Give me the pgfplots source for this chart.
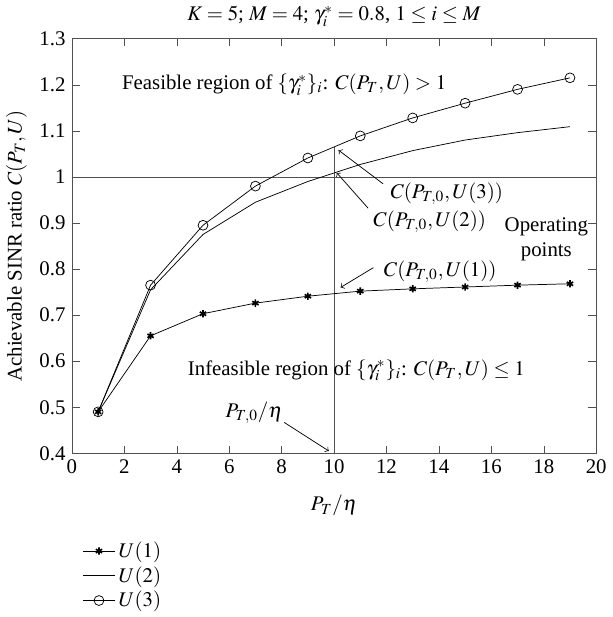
\documentclass[border=0pt]{standalone}
\usepackage{mathptmx}
\usepackage{fontspec}
\setmainfont{Liberation Serif}
\usepackage{pgfplots}
\pgfplotsset{compat=1.18}
\definecolor{axgray}{RGB}{80,80,80}
\begin{document}
\begin{tikzpicture}[font=\fontsize{11.4}{13.7}\selectfont]
\begin{axis}[
    scale only axis,
    width=287pt, height=227pt,
    xmin=0, xmax=20, ymin=0.4, ymax=1.3,
    xtick={0,2,...,20},
    ytick={0.4,0.5,...,1.3},
    tick align=inside,
    tick pos=both,
    axis line style={axgray},
    tick style={axgray},
    /pgf/number format/assume math mode=true,
    yticklabel style={/pgf/number format/fixed},
    title={$K=5$; $M=4$; $\gamma_i^{*}=0.8$, $1\le i\le M$},
    title style={yshift=-3pt},
    xlabel={$P_T/\eta$},
    xlabel style={yshift=-5pt},
    ylabel={Achievable SINR ratio $C(P_T,U)$},
    legend style={at={(0.01,-0.195)}, anchor=north west, draw=none, fill=none,
        legend cell align=left, row sep=-0.5pt, font=\fontsize{11.4}{13.7}\selectfont},
    ]
% horizontal reference line C=1 and vertical line at P_T/eta=10
\addplot[axgray, forget plot] coordinates {(0,1) (20,1)};
\addplot[axgray, forget plot] coordinates {(10,0.4) (10,1.065)};

\addplot[black, mark=asterisk, mark size=2pt, mark options={line width=0.9pt}] coordinates {
    (1,0.490) (3,0.655) (5,0.703) (7,0.726) (9,0.741)
    (11,0.752) (13,0.757) (15,0.761) (17,0.765) (19,0.768)};
\addplot[black] coordinates {
    (1,0.490) (3,0.755) (5,0.875) (7,0.945) (9,0.990)
    (11,1.027) (13,1.057) (15,1.080) (17,1.096) (19,1.109)};
\addplot[black, mark=o, mark size=2.7pt] coordinates {
    (1,0.490) (3,0.765) (5,0.895) (7,0.980) (9,1.041)
    (11,1.089) (13,1.128) (15,1.160) (17,1.190) (19,1.215)};
\legend{$U(1)$, $U(2)$, $U(3)$}

\node[anchor=west, inner sep=0pt] at (axis cs:1.9,1.2) {Feasible region of $\{\gamma_i^{*}\}_i$: $C(P_T,U)>1$};
\node at (axis cs:10.85,0.58) {Infeasible region of $\{\gamma_i^{*}\}_i$: $C(P_T,U)\le 1$};
\node at (axis cs:14.3,0.964) {$C(P_{T,0},U(3))$};
\node at (axis cs:13.65,0.902) {$C(P_{T,0},U(2))$};
\node at (axis cs:14.05,0.795) {$C(P_{T,0},U(1))$};
\node[align=center] at (axis cs:18.1,0.865) {Operating\\points};
\node at (axis cs:6.95,0.488) {$P_{T,0}/\eta$};
\draw[->] (axis cs:11.87,0.985) -- (axis cs:10.17,1.058);
\draw[->] (axis cs:11.3,0.932) -- (axis cs:10.1,1.009);
\draw[->] (axis cs:11.5,0.803) -- (axis cs:10.25,0.760);
\draw[->] (axis cs:8.1,0.467) -- (axis cs:9.8,0.405);
\end{axis}
\end{tikzpicture}
\end{document}
